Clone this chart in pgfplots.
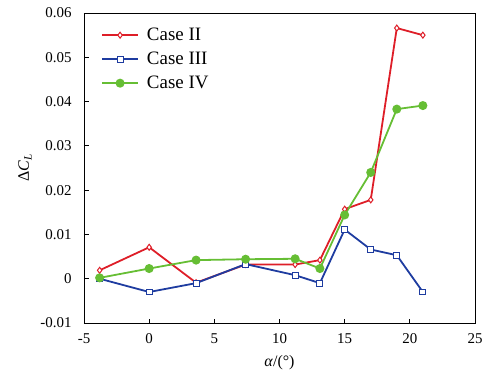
\documentclass[border=0pt]{standalone}
\usepackage{pgfplots}
\pgfplotsset{compat=1.18}
\usepackage{fontspec}
\setmainfont{Liberation Serif}
\definecolor{cred}{RGB}{222,30,40}
\definecolor{cblue}{RGB}{30,60,160}
\definecolor{cgreen}{RGB}{102,190,52}
\begin{document}
\begin{tikzpicture}
\begin{axis}[
  at={(0,0)}, anchor=south west,
  scale only axis, width=391bp, height=310bp,
  xmin=-5, xmax=25, ymin=-0.01, ymax=0.06,
  scaled y ticks=false, scaled x ticks=false,
  xtick={-5,0,5,10,15,20,25},
  ytick={-0.01,0,0.01,0.02,0.03,0.04,0.05,0.06},
  yticklabels={-0.01,0,0.01,0.02,0.03,0.04,0.05,0.06},
  xticklabels={-5,0,5,10,15,20,25},
  tick pos=left, tick align=inside,
  major tick length=4.5bp,
  axis line style={line width=1pt},
  tick style={line width=0.8pt, black},
  ticklabel style={font=\fontsize{15}{17}\selectfont},
  yticklabel style={xshift=-9bp},
  xticklabel style={yshift=-7bp},
  xlabel={\textit{α}/(°)},
  ylabel={Δ\textit{C}\textsubscript{\textit{L}}},
  label style={font=\fontsize{16}{18}\selectfont},
  xlabel style={yshift=-5bp},
  ylabel style={yshift=2bp},
  legend style={draw=none, fill=none, at={(15bp,299bp)}, anchor=north west, font=\fontsize{19}{21}\selectfont, row sep=6pt, column sep=6bp, inner sep=2pt},
  legend cell align=left,
  legend image code/.code={\draw[#1] (0bp,0bp) -- (36bp,0bp); \draw[#1, only marks] plot coordinates {(18bp,0bp)};},
]
\addplot[cred, line width=1.8pt, mark=diamond*, mark options={fill=white, scale=1.5, line width=1pt}] coordinates {
(-3.8,0.0019) (0,0.0071) (3.6,-0.0009) (7.4,0.0032) (11.2,0.0032) (13.1,0.0042) (15,0.0157) (17,0.0178) (19,0.0566) (21,0.0550)};
\addlegendentry{Case II}
\addplot[cblue, line width=1.8pt, mark=square*, mark options={fill=white, scale=1.5, line width=1pt}] coordinates {
(-3.8,0.0000) (0,-0.0030) (3.6,-0.0010) (7.4,0.0033) (11.2,0.0008) (13.1,-0.0010) (15,0.0111) (17,0.0066) (19,0.0053) (21,-0.0030)};
\addlegendentry{Case III}
\addplot[cgreen, line width=1.8pt, mark=*, mark options={scale=1.8}] coordinates {
(-3.8,0.0002) (0,0.0023) (3.6,0.0042) (7.4,0.0044) (11.2,0.0045) (13.1,0.0023) (15,0.0144) (17,0.0240) (19,0.0383) (21,0.0391)};
\addlegendentry{Case IV}
\end{axis}
\pgfresetboundingbox
\path[use as bounding box] (-84bp,-49bp) rectangle (401bp,323bp);
\end{tikzpicture}
\end{document}
